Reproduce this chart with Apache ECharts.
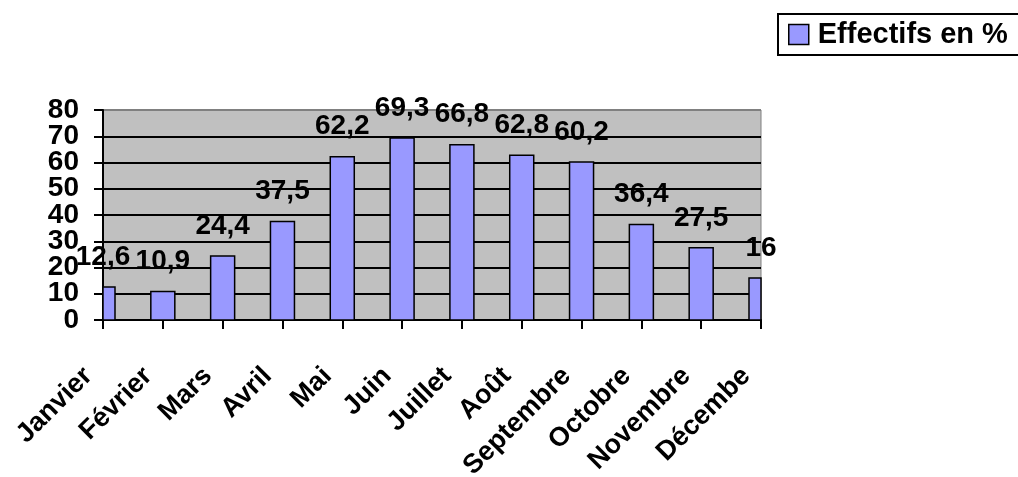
<!DOCTYPE html>
<html>
<head>
<meta charset="utf-8">
<style>
  html, body { margin: 0; padding: 0; background: #fff; }
  #chart { width: 1018px; height: 477px; }
</style>
<script src="https://cdn.jsdelivr.net/npm/echarts@6/dist/echarts.min.js"></script>
</head>
<body>
<div id="chart"></div>
<script>
// Monthly share of staff, in percent
const months = ['Janvier', 'Février', 'Mars', 'Avril', 'Mai', 'Juin', 'Juillet',
                'Août', 'Septembre', 'Octobre', 'Novembre', 'Décembe'];
const effectifs = [12.6, 10.9, 24.4, 37.5, 62.2, 69.3, 66.8, 62.8, 60.2, 36.4, 27.5, 16];
const yTicks = [0, 10, 20, 30, 40, 50, 60, 70, 80];
// the tall labels are split over two stacked axes so none of them is dropped
const yLabelsEven = [0, 20, 40, 60, 80];
const yLabelsOdd = [10, 30, 50, 70];
const seriesName = 'Effectifs en %';

const FONT = '"Liberation Sans", Arial, sans-serif';
const BAR_FILL = '#9999ff';
const BAR_WIDTH = 24;
const fmtComma = v => String(v).replace('.', ',');

const chart = echarts.init(document.getElementById('chart'), null, { renderer: 'canvas' });

// Bars sit on the category ticks; the rectangle is clipped to the plot area
// while the value label above it is not.
function renderBar(params, api) {
  const idx = api.value(0);
  const val = api.value(1);
  const top = api.coord([idx, val]);
  const base = api.coord([idx, 0]);
  const cs = params.coordSys;
  const rect = echarts.graphic.clipRectByRect(
    { x: top[0] - BAR_WIDTH / 2, y: top[1], width: BAR_WIDTH, height: base[1] - top[1] },
    { x: cs.x, y: cs.y, width: cs.width, height: cs.height }
  );
  const children = [];
  if (rect) {
    children.push({
      type: 'rect',
      shape: rect,
      style: { fill: BAR_FILL, stroke: '#000', lineWidth: 1.5 }
    });
  }
  children.push({
    type: 'text',
    x: top[0],
    y: top[1] - 16,
    z2: 10,
    style: {
      text: fmtComma(val),
      align: 'center',
      verticalAlign: 'bottom',
      font: 'bold 28px ' + FONT,
      fill: '#000'
    }
  });
  return { type: 'group', children: children };
}

const yLabelStyle = {
  margin: 24,
  showMinLabel: true,
  showMaxLabel: true,
  hideOverlap: false,
  fontFamily: FONT,
  fontWeight: 'bold',
  fontSize: 28,
  color: '#000'
};

chart.setOption({
  animation: false,
  backgroundColor: '#ffffff',
  textStyle: { fontFamily: FONT, color: '#000' },
  legend: {
    data: [seriesName],
    left: 778,
    top: 14,
    padding: [6, 12, 6, 10],
    itemWidth: 20,
    itemHeight: 20,
    itemGap: 10,
    borderColor: '#000',
    borderWidth: 2,
    backgroundColor: '#fff',
    icon: 'rect',
    itemStyle: { color: BAR_FILL, borderColor: '#000', borderWidth: 1.5 },
    textStyle: {
      fontFamily: FONT, fontWeight: 'bold', fontSize: 29, color: '#000',
      padding: [0, 0, 0, 4]
    }
  },
  grid: {
    left: 103, right: 257, top: 110, bottom: 157,
    containLabel: false,
    outerBoundsMode: 'none',
    show: true,
    backgroundColor: '#c0c0c0',
    borderColor: '#808080',
    borderWidth: 1
  },
  xAxis: {
    type: 'category',
    data: months,
    boundaryGap: false,
    axisLine: { show: true, lineStyle: { color: '#000', width: 2 } },
    axisTick: { show: true, length: 9, lineStyle: { color: '#000', width: 2 } },
    axisLabel: {
      interval: 0,
      rotate: 45,
      margin: 37,
      padding: [0, 21, 0, 0],
      hideOverlap: false,
      fontFamily: FONT,
      fontWeight: 'bold',
      fontSize: 27,
      color: '#000'
    },
    splitLine: { show: false }
  },
  yAxis: [
    {
      type: 'value',
      position: 'left',
      min: 0,
      max: 80,
      interval: 10,
      axisLine: { show: true, lineStyle: { color: '#000', width: 2 } },
      axisTick: {
        show: true, length: 9, customValues: yTicks,
        lineStyle: { color: '#000', width: 2 }
      },
      axisLabel: Object.assign({ customValues: yLabelsEven }, yLabelStyle),
      splitLine: {
        show: true,
        lineStyle: {
          color: ['#000', '#000', '#000', '#000', '#000', '#000', '#000', '#000', '#808080'],
          width: 2
        }
      }
    },
    {
      type: 'value',
      position: 'left',
      min: 0,
      max: 80,
      interval: 10,
      axisLine: { show: false },
      axisTick: { show: false },
      axisLabel: Object.assign({ customValues: yLabelsOdd }, yLabelStyle),
      splitLine: { show: false }
    }
  ],
  series: [
    {
      name: seriesName,
      type: 'custom',
      renderItem: renderBar,
      yAxisIndex: 0,
      data: effectifs.map((v, i) => [i, v]),
      encode: { x: 0, y: 1 },
      itemStyle: { color: BAR_FILL, borderColor: '#000', borderWidth: 1.5 },
      z: 3
    }
  ]
});
</script>
</body>
</html>
